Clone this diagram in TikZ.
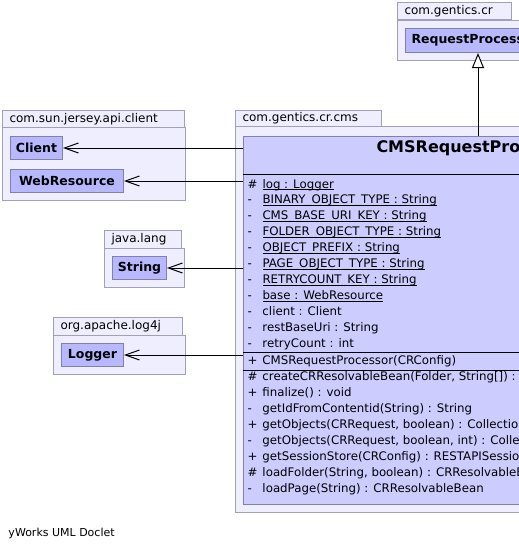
\documentclass[tikz,border=0pt]{standalone}
\usepackage{fontspec}
\setmainfont{DejaVu Sans}
\usetikzlibrary{arrows.meta,positioning}

\definecolor{pkgfill}{RGB}{238,238,255}
\definecolor{pkgline}{RGB}{160,160,184}
\definecolor{clsfill}{RGB}{204,204,255}
\definecolor{smallfill}{RGB}{184,184,255}
\definecolor{clsline}{RGB}{128,128,168}

% visibility marker and member name
\newcommand\mbr[2]{\makebox[15pt][l]{#1}#2}
% static members are underlined
\newcommand\stname[1]{\setbox0=\hbox{#1}\rlap{\rule[-2pt]{\wd0}{0.8pt}}\box0}

\begin{document}
\begin{tikzpicture}[x=1pt, y=-1pt, line width=1pt,
    pkg/.style={draw=pkgline, fill=pkgfill, anchor=north west, inner sep=0pt},
    pkgtab/.style={pkg, font=\fontsize{12}{14}\selectfont, align=left, inner xsep=7pt, minimum height=17pt},
    cls/.style={draw=clsline, fill=smallfill, anchor=north west, inner sep=0pt,
        font=\bfseries\fontsize{12.5}{15}\selectfont, minimum height=23pt},
    member/.style={anchor=base west, inner sep=0pt, font=\fontsize{11.8}{14}\selectfont},
    dep/.style={-{Straight Barb[length=14pt,width=10pt]}},
    inh/.style={-{Triangle[length=15pt,width=12pt,fill=white]}},
    sep/.style={draw=black}]
    \fill[white] (0,0) rectangle (519,550);
    \useasboundingbox (0,0) rectangle (519,550);
    \clip (0,0) rectangle (519,550);

    % packages
    \node[pkg, minimum width=200pt, minimum height=40pt] (crpkg) at (397,20) {};
    \node[pkgtab, text width=100pt] (crtab) at (397,2) {com.gentics.cr};
    \node[pkg, minimum width=183pt, minimum height=73pt] (jerseypkg) at (2,127) {};
    \node[pkgtab, text width=168pt] (jerseytab) at (2,110) {com.sun.jersey.api.client};
    \node[pkg, minimum width=600pt, minimum height=386pt] (cmspkg) at (235,126) {};
    \node[pkgtab, text width=132pt, minimum height=16pt] (cmstab) at (235,110) {com.gentics.cr.cms};
    \node[pkg, minimum width=80pt, minimum height=39pt] (langpkg) at (104,248) {};
    \node[pkgtab, text width=63pt, minimum height=18pt] (langtab) at (104,230) {java.lang};
    \node[pkg, minimum width=132pt, minimum height=39pt] (logpkg) at (53,335) {};
    \node[pkgtab, text width=115pt, minimum height=18pt] (logtab) at (53,317) {org.apache.log4j};

    % classes
    \node[cls, minimum height=24pt, text width=153pt, inner xsep=6pt, align=left] (reqproc) at (405,28) {RequestProcessor};
    \node[cls, minimum width=52pt] (client) at (10,136) {Client};
    \node[cls, minimum width=113pt] (webres) at (10,169) {WebResource};
    \node[cls, minimum width=54pt] (string) at (112,256) {String};
    \node[cls, minimum width=62pt] (logger) at (61,343) {Logger};

    \node[draw=clsline, fill=clsfill, anchor=north west, inner sep=0pt,
        minimum width=460pt, minimum height=368pt] (cms) at (243,136) {};
    \node[anchor=base west, inner sep=0pt, font=\bfseries\fontsize{16}{19}\selectfont] (cmsname) at (376,152) {CMSRequestProcessor};
    \draw[sep] ([yshift=-38pt]cms.north west) -- ([yshift=-38pt]cms.north east);
    \draw[sep] ([yshift=-216pt]cms.north west) -- ([yshift=-216pt]cms.north east);
    \draw[sep] ([yshift=-234pt]cms.north west) -- ([yshift=-234pt]cms.north east);

    \foreach \txt [count=\i from 0] in {
        {\mbr{\#}{\stname{log : Logger}}},
        {\mbr{-}{\stname{BINARY\_OBJECT\_TYPE : String}}},
        {\mbr{-}{\stname{CMS\_BASE\_URI\_KEY : String}}},
        {\mbr{-}{\stname{FOLDER\_OBJECT\_TYPE : String}}},
        {\mbr{-}{\stname{OBJECT\_PREFIX : String}}},
        {\mbr{-}{\stname{PAGE\_OBJECT\_TYPE : String}}},
        {\mbr{-}{\stname{RETRYCOUNT\_KEY : String}}},
        {\mbr{-}{\stname{base : WebResource}}},
        {\mbr{-}{client : Client}},
        {\mbr{-}{restBaseUri : String}},
        {\mbr{-}{retryCount : int}}}
        \node[member] (attr\i) at (247,{188+15.9*\i}) {\txt};

    \node[member] (ctor) at (247,364) {\mbr{+}{CMSRequestProcessor(CRConfig)}};

    \foreach \txt [count=\i from 0] in {
        {\mbr{\#}{createCRResolvableBean(Folder, String[]) : CRResolvableBean}},
        {\mbr{+}{finalize() : void}},
        {\mbr{-}{getIdFromContentid(String) : String}},
        {\mbr{+}{getObjects(CRRequest, boolean) : Collection}},
        {\mbr{-}{getObjects(CRRequest, boolean, int) : Collection}},
        {\mbr{+}{getSessionStore(CRConfig) : RESTAPISessionStore}},
        {\mbr{\#}{loadFolder(String, boolean) : CRResolvableBean}},
        {\mbr{-}{loadPage(String) : CRResolvableBean}}}
        \node[member] (meth\i) at (247,{380+16*\i}) {\txt};

    % relations
    \coordinate (gen) at (478,136);
    \draw[inh] (gen) -- (gen |- reqproc.south);
    \draw[dep] (cms.west |- client) -- (client);
    \draw[dep] (cms.west |- webres) -- (webres);
    \draw[dep] (cms.west |- string) -- (string);
    \draw[dep] (cms.west |- logger) -- (logger);

    \node[anchor=base west, inner sep=0pt, font=\fontsize{11}{13}\selectfont] (doclet) at (8,536) {yWorks UML Doclet};
\end{tikzpicture}
\end{document}
